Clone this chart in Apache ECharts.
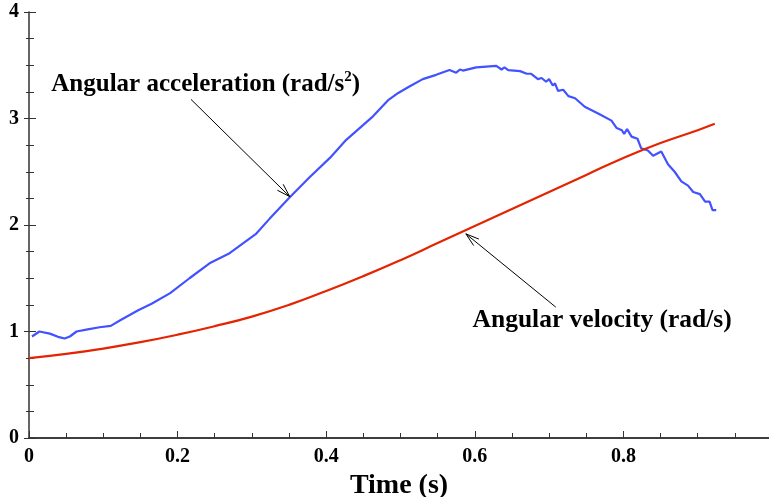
<!DOCTYPE html>
<html>
<head>
<meta charset="utf-8">
<script src="https://cdn.jsdelivr.net/npm/echarts@6/dist/echarts.min.js"></script>
<style>
  html, body { margin: 0; padding: 0; background: #fff; }
  #chart { width: 769px; height: 497px; }
</style>
</head>
<body>
<div id="chart"></div>
<script>
// angular acceleration
var accTime = [0.004, 0.014, 0.028, 0.039, 0.048, 0.055, 0.064, 0.079, 0.095, 0.11,
  0.124, 0.147, 0.165, 0.19, 0.216, 0.243, 0.27, 0.306, 0.324, 0.351,
  0.378, 0.405, 0.427, 0.445, 0.463, 0.483, 0.497, 0.512, 0.53, 0.548,
  0.566, 0.575, 0.58, 0.584, 0.602, 0.62, 0.629, 0.636, 0.64, 0.645,
  0.661, 0.67, 0.676, 0.685, 0.69, 0.696, 0.70, 0.705, 0.708, 0.712,
  0.719, 0.726, 0.735, 0.748, 0.768, 0.784, 0.791, 0.798, 0.801, 0.805,
  0.811, 0.819, 0.824, 0.833, 0.84, 0.851, 0.86, 0.869, 0.878, 0.887,
  0.894, 0.903, 0.91, 0.916, 0.92, 0.925]
var accValue = [0.953, 1.0, 0.98, 0.95, 0.934, 0.953, 1.0, 1.02, 1.04, 1.053,
  1.11, 1.2, 1.26, 1.36, 1.5, 1.64, 1.735, 1.92, 2.06, 2.26,
  2.45, 2.63, 2.8, 2.91, 3.02, 3.17, 3.24, 3.3, 3.37, 3.41,
  3.455, 3.43, 3.46, 3.45, 3.48, 3.49, 3.495, 3.46, 3.48, 3.455,
  3.445, 3.42, 3.42, 3.37, 3.38, 3.345, 3.37, 3.31, 3.33, 3.26,
  3.27, 3.21, 3.19, 3.11, 3.04, 2.98, 2.91, 2.89, 2.855, 2.9,
  2.83, 2.81, 2.72, 2.7, 2.65, 2.69, 2.57, 2.5, 2.41, 2.37,
  2.31, 2.29, 2.22, 2.22, 2.14, 2.14]

// angular velocity
var velTime = [0, 0.05, 0.1, 0.15, 0.2, 0.25, 0.3, 0.35, 0.4, 0.45, 0.5, 0.55, 0.6, 0.65, 0.7, 0.75, 0.8, 0.85, 0.9, 0.923]
var velValue = [0.75, 0.79, 0.84, 0.9, 0.97, 1.05, 1.14, 1.25, 1.38, 1.52, 1.67, 1.83, 1.99, 2.15, 2.31, 2.47, 2.63, 2.77, 2.89, 2.95]

var xTicks = [0, 0.2, 0.4, 0.6, 0.8]
var yTicks = [0, 1, 2, 3, 4]

var accData = accTime.map(function (t, i) { return [t, accValue[i]] })
var velData = velTime.map(function (t, i) { return [t, velValue[i]] })

var font = 'Liberation Serif'
var chart = echarts.init(document.getElementById('chart'))

var option = {
  animation: false,
  grid: { left: 29, right: 0, top: 12, bottom: 59, outerBoundsMode: 'none', containLabel: false },
  xAxis: [{
    type: 'value',
    position: 'bottom',
    min: 0,
    max: 0.996,
    interval: 0.2,
    name: 'Time (s)',
    nameLocation: 'middle',
    nameGap: 28,
    nameTextStyle: { fontFamily: font, fontWeight: 'bold', fontSize: 28, color: '#000' },
    axisLine: { lineStyle: { color: '#333', width: 1.5 } },
    axisTick: { inside: true, length: 7, lineStyle: { color: '#333' } },
    minorTick: { show: true, splitNumber: 4, length: 5, lineStyle: { color: '#333' } },
    axisLabel: {
      margin: 9, showMaxLabel: false,
      fontFamily: font, fontWeight: 'bold', fontSize: 20, color: '#000',
      formatter: function (v) { return xTicks.indexOf(v) >= 0 ? String(v) : '' }
    },
    splitLine: { show: false }
  }, {
    type: 'value',
    position: 'top',
    min: 0,
    max: 0.996,
    axisLine: { lineStyle: { color: '#333', width: 1.5 } },
    axisTick: { show: false },
    axisLabel: { show: false },
    splitLine: { show: false }
  }],
  yAxis: [{
    type: 'value',
    position: 'left',
    min: 0,
    max: 4,
    interval: 1,
    axisLine: { show: true, lineStyle: { color: '#333', width: 1.5 } },
    axisTick: { show: true, inside: true, length: 7, lineStyle: { color: '#333' } },
    minorTick: { show: true, splitNumber: 4, length: 5, lineStyle: { color: '#333' } },
    axisLabel: {
      margin: 10, fontFamily: font, fontWeight: 'bold', fontSize: 20, color: '#000',
      formatter: function (v) { return yTicks.indexOf(v) >= 0 ? String(v) : '' }
    },
    splitLine: { show: false }
  }, {
    type: 'value',
    position: 'right',
    min: 0,
    max: 4,
    interval: 1,
    axisLine: { show: false },
    axisTick: { show: true, inside: true, length: 5, lineStyle: { color: '#333' } },
    minorTick: { show: true, splitNumber: 4, length: 3, lineStyle: { color: '#333' } },
    axisLabel: { show: false },
    splitLine: { show: false }
  }],
  series: [{
    name: 'Angular acceleration',
    type: 'line',
    data: accData,
    showSymbol: false,
    lineStyle: { color: '#4252ff', width: 2.2 },
    z: 3
  }, {
    name: 'Angular velocity',
    type: 'line',
    data: velData,
    showSymbol: false,
    smooth: true,
    lineStyle: { color: '#e42400', width: 2.2 },
    z: 3
  }]
}
chart.setOption(option)

// annotations: arrows and texts placed in data coordinates
function px (p) { return chart.convertToPixel({ gridIndex: 0 }, p) }

function arrow (from, to) {
  var a = px(from)
  var b = px(to)
  var ang = Math.atan2(b[1] - a[1], b[0] - a[0])
  var len = 14
  var spread = 0.3
  var h1 = [b[0] - len * Math.cos(ang - spread), b[1] - len * Math.sin(ang - spread)]
  var h2 = [b[0] - len * Math.cos(ang + spread), b[1] - len * Math.sin(ang + spread)]
  var st = { stroke: '#000', lineWidth: 1, fill: null }
  return [
    { type: 'polyline', shape: { points: [a, b] }, style: st, z: 10 },
    { type: 'polyline', shape: { points: [h1, b, h2] }, style: st, z: 10 }
  ]
}

var t1 = px([0.030, 3.32])
var t2 = px([0.597, 1.10])

var graphics = []
  .concat(arrow([0.218, 3.18], [0.351, 2.266]))
  .concat(arrow([0.709, 1.229], [0.588, 1.917]))
graphics.push({
  type: 'text',
  x: t1[0],
  y: t1[1],
  z: 10,
  style: {
    text: '{a|Angular acceleration (rad/s}{s|2}{a|)}',
    verticalAlign: 'middle',
    rich: {
      a: { fontFamily: font, fontWeight: 'bold', fontSize: 25, fill: '#000', lineHeight: 30 },
      s: { fontFamily: font, fontWeight: 'bold', fontSize: 15, fill: '#000', verticalAlign: 'top' }
    }
  }
})
graphics.push({
  type: 'text',
  x: t2[0],
  y: t2[1],
  z: 10,
  style: {
    text: 'Angular velocity (rad/s)',
    verticalAlign: 'middle',
    fontFamily: font,
    fontWeight: 'bold',
    fontSize: 25.5,
    fill: '#000'
  }
})
chart.setOption({ graphic: graphics })

window.addEventListener('resize', function () {
  chart.resize()
})
</script>
</body>
</html>
